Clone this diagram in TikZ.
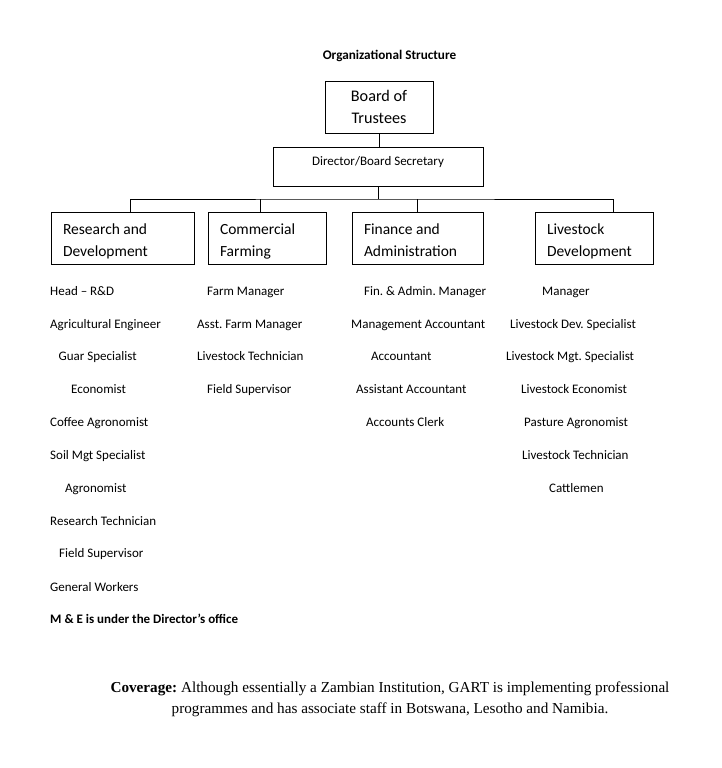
\documentclass[tikz,border=0pt]{standalone}
\usepackage{fontspec}
\setmainfont{Carlito}
\newfontfamily\timesf{Liberation Serif}
\newcommand{\topstrut}{\rule{0pt}{21pt}}
\begin{document}
\begin{tikzpicture}[x=1pt,y=-1pt,
  every node/.style={execute at begin node={\frenchspacing\spaceskip=0pt\xspaceskip=0pt\relax}},
  box/.style={draw,line width=0.9pt,inner sep=0pt},
  unit/.style={box,align=left,inner xsep=12pt,font=\fontsize{15.5}{22}\selectfont},
  item/.style={anchor=base west,yshift=-4.5pt,inner sep=0pt,font=\fontsize{13}{15}\selectfont},
  link/.style={line width=0.9pt}]
\useasboundingbox (0,0) rectangle (722,768);
\node[font=\bfseries\fontsize{13.2}{15}\selectfont] (title) at (389.5,56) {Organizational Structure};
\node[box,minimum width=108pt,minimum height=52pt,align=center,font=\fontsize{16.2}{22}\selectfont] (bot) at (379,107) {Board of\\Trustees};
\node[box,minimum width=210pt,minimum height=39pt,font=\fontsize{13}{15}\selectfont] (dir) at (378,166.5) {\raisebox{4pt}[\height][\depth]{Director/Board Secretary}};
\node[unit,text width=119pt,minimum height=52pt] (rd) at (122.5,238) {\topstrut Research and\\Development\strut};
\node[unit,text width=94pt,minimum height=52pt] (cf) at (267,238) {\topstrut Commercial\\Farming\strut};
\node[unit,text width=107pt,minimum height=52pt] (fa) at (417.5,238) {\topstrut Finance and\\Administration\strut};
\node[unit,text width=94pt,minimum height=52pt] (ld) at (594,238) {\topstrut Livestock\\Development\strut};
\coordinate (j) at (378,199);
\draw[link] (bot.south) -- (bot.south |- dir.north);
\draw[link] (dir.south) -- (j);
\draw[link] ([xshift=7.5pt]rd.north) |- (j) -| ([xshift=19pt]ld.north);
\draw[link] ([xshift=-7pt]cf.north) -- ([xshift=-7pt]cf.north |- j);
\draw[link] (fa.north) -- (fa.north |- j);
% Research and Development
\node[item] (r1) at (50,291) {Head – R\&D};
\node[item] (r2) at (50,324) {Agricultural Engineer};
\node[item] (r3) at (58.5,356) {Guar Specialist};
\node[item] (r4) at (71,389) {Economist};
\node[item] (r5) at (50,422) {Coffee Agronomist};
\node[item] (r6) at (50,455) {Soil Mgt Specialist};
\node[item] (r7) at (65,488) {Agronomist};
\node[item] (r8) at (50,521) {Research Technician};
\node[item] (r9) at (59,553) {Field Supervisor};
\node[item] (r10) at (50,587) {General Workers};
\node[item,font=\bfseries\fontsize{13}{15}\selectfont] (me) at (50,619) {M \& E is under the Director’s office};
% Commercial Farming
\node[item] (c1) at (207,291) {Farm Manager};
\node[item] (c2) at (197,324) {Asst. Farm Manager};
\node[item] (c3) at (197,356) {Livestock Technician};
\node[item] (c4) at (207,389) {Field Supervisor};
% Finance and Administration
\node[item] (f1) at (364,291) {Fin. \& Admin. Manager};
\node[item] (f2) at (351,324) {Management Accountant};
\node[item] (f3) at (371,356) {Accountant};
\node[item] (f4) at (356,389) {Assistant Accountant};
\node[item] (f5) at (366,422) {Accounts Clerk};
% Livestock Development
\node[item] (l1) at (542,291) {Manager};
\node[item] (l2) at (510,324) {Livestock Dev. Specialist};
\node[item] (l3) at (506,356) {Livestock Mgt. Specialist};
\node[item] (l4) at (521,389) {Livestock Economist};
\node[item] (l5) at (524,422) {Pasture Agronomist};
\node[item] (l6) at (522,455) {Livestock Technician};
\node[item] (l7) at (549,488) {Cattlemen};
% Coverage
\node[align=center,inner sep=0pt,font=\timesf\fontsize{15.2}{21}\selectfont] (cov) at (390,699.5) {\textbf{Coverage:} Although essentially a Zambian Institution, GART is implementing professional\\programmes and has associate staff in Botswana, Lesotho and Namibia.};
\end{tikzpicture}
\end{document}
